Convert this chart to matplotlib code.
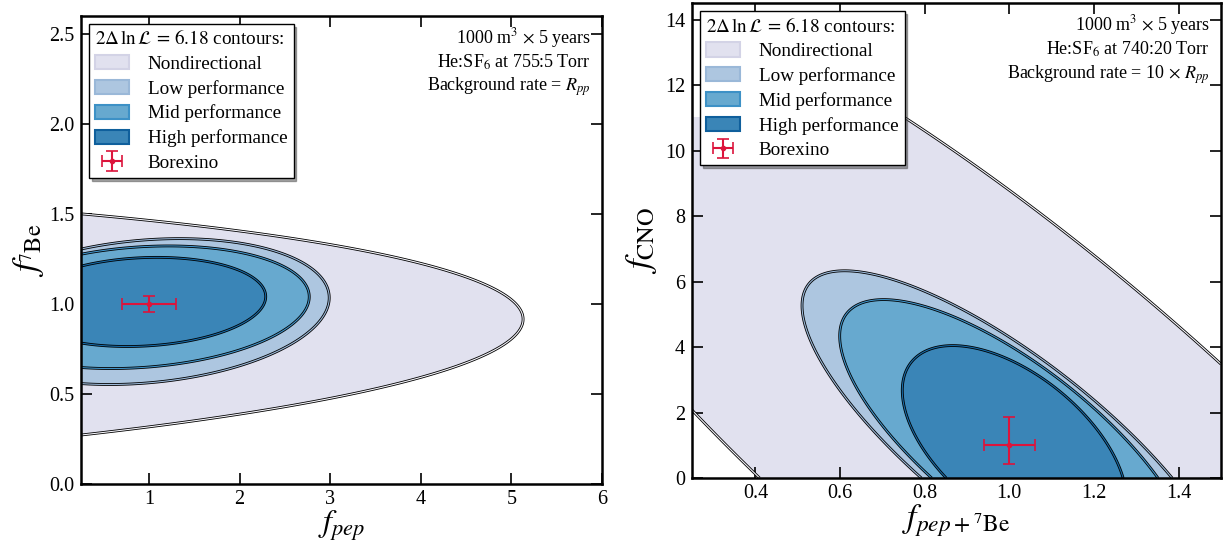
import numpy as np
import matplotlib
matplotlib.use("Agg")
import matplotlib.pyplot as plt
from matplotlib.patches import Patch

plt.rcParams['font.family'] = 'serif'
plt.rcParams['font.serif'] = ['Liberation Serif', 'DejaVu Serif']
plt.rcParams['mathtext.fontset'] = 'stix'

# contour level and series names
level = 6.18
labels = ["Nondirectional", "Low performance", "Mid performance", "High performance"]

# left panel: f_pep vs f_7Be, gaussian approx of each likelihood (centre, widths, correlation)
pep_cx = [-10.0, 0.95, 0.90, 0.925]
pep_cy = [0.825, 0.958, 0.982, 1.0115]
pep_sx = [6.086, 0.8206, 0.752, 0.5487]
pep_sy = [0.338, 0.163, 0.137, 0.0996]
pep_rho = [0.108, 0.19, 0.17, 0.12]

# right panel: f_pep+7Be vs f_CNO
cno_cx = [1.016, 1.013, 1.014, 1.012]
cno_cy = [1.0, 1.0, 1.0, 1.0]
cno_sx = [0.538, 0.2023, 0.1669, 0.1066]
cno_sy = [6.0, 2.144, 1.790, 1.225]
cno_rho = [-0.859, -0.80, -0.75, -0.55]

# Borexino measurements
bx_left = (1.0, 1.0)
bx_left_xerr = 0.3
bx_left_yerr = 0.045
bx_right = (1.0, 1.0)
bx_right_xerr = 0.06
bx_right_yerr = [[0.56], [0.85]]

# scan ranges of the likelihood grid
left_grid = (0.25, 6.0, 0.0, 2.6)
right_grid = (0.25, 1.5, 0.0, 11.0)

info_left = [r"1000 m$^3$ $\times$ 5 years", r"He:SF$_6$ at 755:5 Torr",
             r"Background rate = $R_{pp}$"]
info_right = [r"1000 m$^3$ $\times$ 5 years", r"He:SF$_6$ at 740:20 Torr",
              r"Background rate = 10 $\times$ $R_{pp}$"]

fill_colors = ['#e1e1ef', '#adc6e0', '#67a9cf', '#3a85b7']
edge_colors = ['#f4f4fa', '#9cb9d9', '#3f93c8', '#166aa6']
legend_edges = ['#d3d3e6', '#9ab8d8', '#3d91c6', '#0f5f9c']
bx_color = '#dc143c'


def delta_chi2(X, Y, cx, cy, sx, sy, rho):
    u = (X - cx) / sx
    v = (Y - cy) / sy
    return (u * u - 2 * rho * u * v + v * v) / (1 - rho * rho)


def draw_panel(ax, grid, cx, cy, sx, sy, rho, bx, bxerr, byerr, info):
    x = np.linspace(grid[0], grid[1], 900)
    y = np.linspace(grid[2], grid[3], 900)
    X, Y = np.meshgrid(x, y)
    for i in range(len(labels)):
        Z = delta_chi2(X, Y, cx[i], cy[i], sx[i], sy[i], rho[i])
        ax.contourf(X, Y, Z, levels=[-1, level], colors=[fill_colors[i]], zorder=1 + i)
        ax.contour(X, Y, Z, levels=[level], colors='k', linewidths=2.0, zorder=1.5 + i)
        ax.contour(X, Y, Z, levels=[level], colors=[edge_colors[i]], linewidths=0.8, zorder=1.6 + i)

    eb = ax.errorbar(bx[0], bx[1], xerr=bxerr, yerr=byerr, fmt='o', ms=3, color=bx_color,
                     lw=1.5, capsize=4, capthick=1.2, zorder=10)

    handles = [Patch(facecolor=fill_colors[i], edgecolor=legend_edges[i], lw=1.5)
               for i in range(len(labels))]
    leg = ax.legend(handles + [eb], labels + ["Borexino"], loc='upper left',
                    title=r"$2\Delta\,\ln\mathcal{L}\,=\,6.18$ contours:",
                    fontsize=13.8, title_fontsize=13.8, alignment='left',
                    fancybox=False, shadow=True, framealpha=1, edgecolor='k',
                    borderaxespad=0.42, handlelength=1.75, handleheight=0.75,
                    handletextpad=1.0, labelspacing=0.36, borderpad=0.32)
    leg.get_frame().set_linewidth(1.0)
    leg.set_zorder(20)

    for k, t in enumerate(info):
        ax.annotate(t, xy=(1, 1), xycoords='axes fraction', xytext=(-11, -22 - 24.5 * k),
                    textcoords='offset pixels', ha='right', va='center', fontsize=13)

    ax.tick_params(direction='in', top=True, right=True, length=8, width=1.2,
                   labelsize=14.5, pad=5)
    ax.tick_params(axis='x', pad=4)
    for s in ax.spines.values():
        s.set_linewidth(1.8)
        s.set_zorder(30)


fig = plt.figure(figsize=(12.23, 5.42), dpi=100)
ax1 = fig.add_axes([0.0662, 0.107, 0.426, 0.8635])
ax2 = fig.add_axes([0.5658, 0.118, 0.4325, 0.876])

draw_panel(ax1, left_grid, pep_cx, pep_cy, pep_sx, pep_sy, pep_rho,
           bx_left, bx_left_xerr, bx_left_yerr, info_left)
ax1.set_xlim(0.25, 6.0)
ax1.set_ylim(0, 2.6)
ax1.set_xticks([1, 2, 3, 4, 5, 6])
ax1.set_yticks([0.0, 0.5, 1.0, 1.5, 2.0, 2.5])
ax1.set_xlabel(r"$f_{pep}$", fontsize=23, labelpad=0)
ax1.set_ylabel(r"$f_{^7\mathrm{Be}}$", fontsize=25, labelpad=2)

draw_panel(ax2, right_grid, cno_cx, cno_cy, cno_sx, cno_sy, cno_rho,
           bx_right, bx_right_xerr, bx_right_yerr, info_right)
ax2.set_xlim(0.25, 1.5)
ax2.set_ylim(0, 14.5)
ax2.set_xticks([0.4, 0.6, 0.8, 1.0, 1.2, 1.4])
ax2.set_yticks([0, 2, 4, 6, 8, 10, 12, 14])
ax2.set_xlabel(r"$f_{pep+^7\mathrm{Be}}$", fontsize=24, labelpad=0)
ax2.set_ylabel(r"$f_{\mathrm{CNO}}$", fontsize=25, labelpad=4)

fig.savefig("out.png", dpi=100)
